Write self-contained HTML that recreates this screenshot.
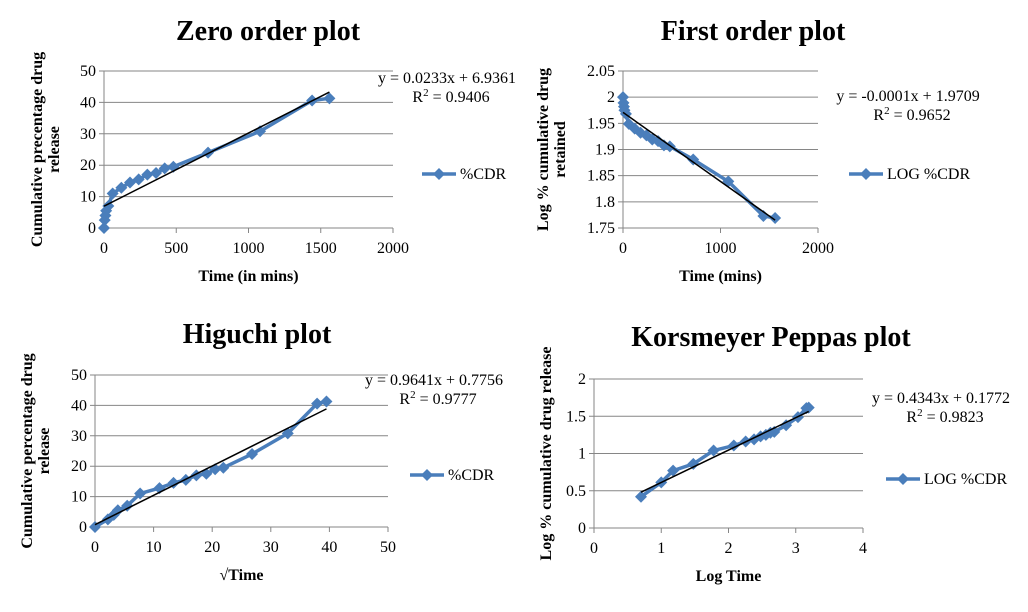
<!DOCTYPE html>
<html><head><meta charset="utf-8"><style>
html,body{margin:0;padding:0;background:#fff}
svg, svg text, svg tspan{font-family:"Liberation Serif","Times New Roman",serif}
</style></head><body>
<svg id="c" width="1028" height="607" viewBox="0 0 1028 607" font-family="Liberation Serif, serif"></svg>
<script>
// ---- data ----
const zeroTime = [0,5,10,15,30,60,120,180,240,300,360,420,480,720,1080,1440,1560];
const zeroCDR = [0,2.5,4,5.5,7,11,12.8,14.5,15.5,17,17.5,19,19.5,24,30.8,40.6,41.3];
const firstTime = [0,5,10,15,30,60,120,180,240,300,360,420,480,720,1080,1440,1560];
const firstLog = [2,1.989,1.982,1.975,1.968,1.949,1.940,1.932,1.927,1.919,1.916,1.908,1.906,1.881,1.839,1.773,1.769];
const sqrtTime = [0,2.2,3.2,3.9,5.5,7.7,11,13.4,15.5,17.3,19,20.5,21.9,26.8,32.9,37.9,39.5];
const higuchiCDR = [0,2.5,4,5.5,7,11,12.8,14.5,15.5,17,17.5,19,19.5,24,30.8,40.6,41.3];
const logTime = [0.699,1,1.176,1.477,1.778,2.079,2.255,2.380,2.477,2.556,2.623,2.681,2.857,3.033,3.158,3.193];
const logCDR = [0.42,0.612,0.77,0.86,1.04,1.107,1.161,1.19,1.23,1.25,1.279,1.29,1.38,1.489,1.609,1.616];
const zeroXTicks = [0,500,1000,1500,2000], zeroYTicks = [0,10,20,30,40,50];
const firstXTicks = [0,1000,2000], firstYTicks = [1.75,1.8,1.85,1.9,1.95,2,2.05];
const higXTicks = [0,10,20,30,40,50], higYTicks = [0,10,20,30,40,50];
const kpXTicks = [0,1,2,3,4], kpYTicks = [0,0.5,1,1.5,2];

const svg = document.getElementById('c');
const NS = 'http://www.w3.org/2000/svg';
const FF = 'Liberation Serif, Times New Roman, serif';
function mk(tag, attrs, parent, text){
  const e = document.createElementNS(NS, tag);
  for (const k in attrs) e.setAttribute(k, attrs[k]);
  if (tag === 'text') e.setAttribute('font-family', FF);
  if (text !== undefined) e.textContent = text;
  (parent||svg).appendChild(e); return e;
}
function chart(o){
  const g = mk('g', {});
  
  
  const sx = v => o.x0 + (v - o.xmin)/(o.xmax - o.xmin)*(o.x1 - o.x0);
  const sy = v => o.y0 - (v - o.ymin)/(o.ymax - o.ymin)*(o.y0 - o.y1);
  const t = mk('text', {x:o.tx, y:o.ty, 'text-anchor':'middle', 'font-size':28, 'font-weight':'bold'}, g, o.title);
  
  
  o.yTicks.forEach(v => {
    mk('line', {x1:o.x0-5, x2:o.x1, y1:sy(v), y2:sy(v), stroke:'#868686', 'stroke-width':1}, g);
    const l = mk('text', {x:o.x0-8, y:sy(v)+5, 'text-anchor':'end', 'font-size':16}, g, String(v));
    
    
  });
  mk('line', {x1:o.x0, x2:o.x0, y1:o.y1, y2:o.y0, stroke:'#868686'}, g);
  o.xTicks.forEach(v => {
    mk('line', {x1:sx(v), x2:sx(v), y1:o.y0, y2:o.y0+5, stroke:'#868686'}, g);
    const l = mk('text', {x:sx(v), y:o.y0+25, 'text-anchor':'middle', 'font-size':16}, g, String(v));
    
    
  });
  const xt = mk('text', {x:(o.x0+o.x1)/2, y:o.y0+53, 'text-anchor':'middle', 'font-size':16, 'font-weight':'bold'}, g, o.xTitle);
  
  
  const yt = mk('text', {transform:`translate(${o.ytx},${(o.y0+o.y1)/2}) rotate(-90)`, 'text-anchor':'middle', 'font-size':16, 'font-weight':'bold'}, g);
  
  
  o.yTitle.forEach((s,i)=>mk('tspan', {x:0, dy: i===0 ? (o.yTitle.length>1?-2:0) : 17}, yt, s));
  const pts = o.xs.map((x,i)=>sx(x)+','+sy(o.ys[i])).join(' ');
  const pl = mk('polyline', {points:pts, fill:'none', stroke:'#4a7ebb', 'stroke-width':3.5, 'stroke-linejoin':'round'}, g);
  
  
  o.xs.forEach((x,i)=>{
    const cx = sx(x), cy = sy(o.ys[i]);
    const d = mk('polygon', {points:`${cx},${cy-6} ${cx+6},${cy} ${cx},${cy+6} ${cx-6},${cy}`, fill:'#4a7ebb'}, g);
    
    
  });
  const tl = mk('line', {x1:sx(o.tr[0]), y1:sy(o.m*o.tr[0]+o.b), x2:sx(o.tr[1]), y2:sy(o.m*o.tr[1]+o.b), stroke:'#000', 'stroke-width':1.5}, g);
  
  
  const eq = mk('text', {x:o.ex, y:o.ey, 'text-anchor':'middle', 'font-size':16}, g, o.eq);
  
  
  const r2 = mk('text', {x:o.ex+4, y:o.ey+19, 'text-anchor':'middle', 'font-size':16}, g);
  
  
  mk('tspan', {}, r2, 'R');
  mk('tspan', {dy:-6, 'font-size':11}, r2, '2');
  mk('tspan', {dy:6}, r2, ' = '+o.r2);
  const lg = mk('g', {}, g);
  
  
  mk('line', {x1:o.lx, x2:o.lx+34, y1:o.ly, y2:o.ly, stroke:'#4a7ebb', 'stroke-width':3.5}, lg);
  const c = o.lx+17;
  mk('polygon', {points:`${c},${o.ly-6} ${c+6},${o.ly} ${c},${o.ly+6} ${c-6},${o.ly}`, fill:'#4a7ebb'}, lg);
  mk('text', {x:o.lx+38, y:o.ly+5, 'font-size':16}, lg, o.legend);
}
chart({name:'zero-order-chart', title:'Zero order plot', tx:268, ty:40,
  x0:104, x1:393, y0:228, y1:71, xmin:0, xmax:2000, ymin:0, ymax:50,
  xTicks:zeroXTicks, yTicks:zeroYTicks, xs:zeroTime, ys:zeroCDR,
  xTitle:'Time (in mins)', yTitle:['Cumulative precentage drug','release'], ytx:44,
  m:0.0233, b:6.9361, tr:[0,1560], eq:'y = 0.0233x + 6.9361', r2:'0.9406', ex:447, ey:83,
  lx:422, ly:174, legend:'%CDR'});
chart({name:'first-order-chart', title:'First order plot', tx:753, ty:40,
  x0:623, x1:818, y0:228, y1:71, xmin:0, xmax:2000, ymin:1.75, ymax:2.05,
  xTicks:firstXTicks, yTicks:firstYTicks, xs:firstTime, ys:firstLog,
  xTitle:'Time (mins)', yTitle:['Log % cumulative drug','retained'], ytx:550,
  m:-0.000132, b:1.9709, tr:[0,1560], eq:'y = -0.0001x + 1.9709', r2:'0.9652', ex:908, ey:101,
  lx:849, ly:174, legend:'LOG %CDR'});
chart({name:'higuchi-chart', title:'Higuchi plot', tx:257, ty:343,
  x0:95, x1:388, y0:527, y1:375, xmin:0, xmax:50, ymin:0, ymax:50,
  xTicks:higXTicks, yTicks:higYTicks, xs:sqrtTime, ys:higuchiCDR,
  xTitle:'√Time', yTitle:['Cumulative percentage drug','release'], ytx:34,
  m:0.9641, b:0.7756, tr:[0,39.5], eq:'y = 0.9641x + 0.7756', r2:'0.9777', ex:434, ey:385,
  lx:410, ly:475, legend:'%CDR'});
chart({name:'korsmeyer-peppas-chart', title:'Korsmeyer Peppas plot', tx:771, ty:346,
  x0:594, x1:863, y0:528, y1:379, xmin:0, xmax:4, ymin:0, ymax:2,
  xTicks:kpXTicks, yTicks:kpYTicks, xs:logTime, ys:logCDR,
  xTitle:'Log Time', yTitle:['Log % cumulative drug release'], ytx:551,
  m:0.4343, b:0.1772, tr:[0.699,3.193], eq:'y = 0.4343x + 0.1772', r2:'0.9823', ex:941, ey:403,
  lx:886, ly:479, legend:'LOG %CDR'});
</script>
</body></html>
